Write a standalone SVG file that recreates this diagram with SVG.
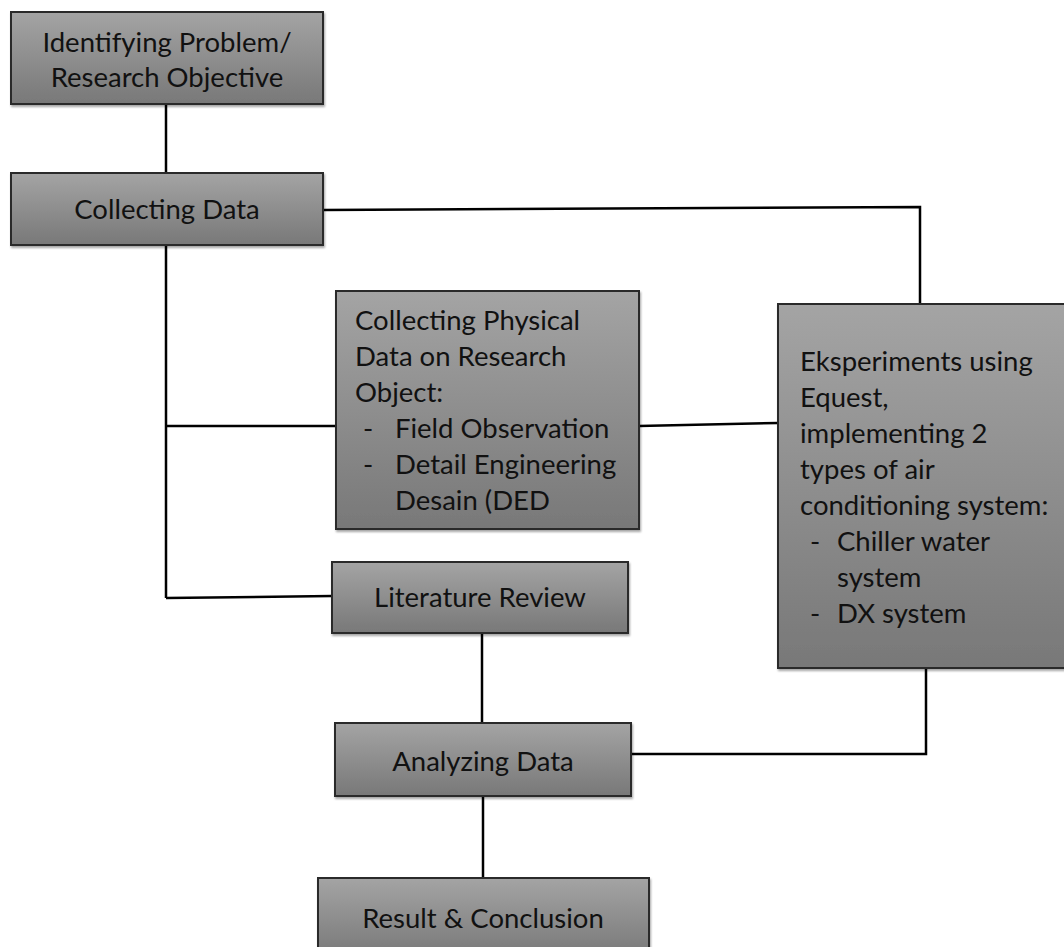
<svg xmlns="http://www.w3.org/2000/svg" width="1064" height="947" viewBox="0 0 1064 947">
<defs>
<linearGradient id="g" x1="0" y1="0" x2="0" y2="1">
<stop offset="0" stop-color="#a4a4a4"/>
<stop offset="1" stop-color="#787878"/>
</linearGradient>
<filter id="sh" x="-5%" y="-5%" width="110%" height="115%">
<feDropShadow dx="1" dy="2" stdDeviation="1" flood-color="#000" flood-opacity="0.35"/>
</filter>
</defs>
<style>
.box{fill:url(#g);stroke:#2a2a2a;stroke-width:2;filter:url(#sh)}
.t{font-family:Lato,"Open Sans","Liberation Sans",sans-serif;font-size:27.5px;fill:#111}
.c{text-anchor:middle}
.ln{fill:none;stroke:#000;stroke-width:2.5}
</style>
<rect width="1064" height="947" fill="#fff"/>
<g id="connectors">
<line class="ln" x1="166" y1="104" x2="166" y2="173"/>
<line class="ln" x1="166" y1="245" x2="166" y2="598"/>
<polyline class="ln" points="323,210 920,207 920,304"/>
<line class="ln" x1="166" y1="426" x2="336" y2="426"/>
<line class="ln" x1="166" y1="598" x2="332" y2="596"/>
<line class="ln" x1="639" y1="426" x2="778" y2="423"/>
<line class="ln" x1="482" y1="633" x2="482" y2="723"/>
<polyline class="ln" points="631,754 926,754 926,668"/>
<line class="ln" x1="483" y1="796" x2="483" y2="878"/>
</g>
<g id="n1"><rect class="box" x="11" y="12" width="312" height="92"/>
<text class="t c" x="167" y="52">Identifying Problem/</text>
<text class="t c" x="167" y="87">Research Objective</text></g>
<g id="n2"><rect class="box" x="11" y="173" width="312" height="72"/>
<text class="t c" x="167" y="219">Collecting Data</text></g>
<g id="n3"><rect class="box" x="336" y="291" width="303" height="238"/>
<text class="t" x="355" y="330">Collecting Physical</text>
<text class="t" x="355" y="366">Data on Research</text>
<text class="t" x="355" y="402">Object:</text>
<text class="t" x="363" y="438">-</text><text class="t" x="395" y="438">Field Observation</text>
<text class="t" x="363" y="474">-</text><text class="t" x="395" y="474">Detail Engineering</text>
<text class="t" x="395" y="510">Desain (DED</text></g>
<g id="n4"><rect class="box" x="778" y="304" width="300" height="364"/>
<text class="t" x="800" y="371">Eksperiments using</text>
<text class="t" x="800" y="407">Equest,</text>
<text class="t" x="800" y="443">implementing 2</text>
<text class="t" x="800" y="479">types of air</text>
<text class="t" x="800" y="515">conditioning system:</text>
<text class="t" x="810" y="551">-</text><text class="t" x="837" y="551">Chiller water</text>
<text class="t" x="837" y="587">system</text>
<text class="t" x="810" y="623">-</text><text class="t" x="837" y="623">DX system</text></g>
<g id="n5"><rect class="box" x="332" y="562" width="296" height="71"/>
<text class="t c" x="480" y="607">Literature Review</text></g>
<g id="n6"><rect class="box" x="335" y="723" width="296" height="73"/>
<text class="t c" x="483" y="771">Analyzing Data</text></g>
<g id="n7"><rect class="box" x="318" y="878" width="331" height="80"/>
<text class="t c" x="483" y="928">Result &amp; Conclusion</text></g>
</svg>
